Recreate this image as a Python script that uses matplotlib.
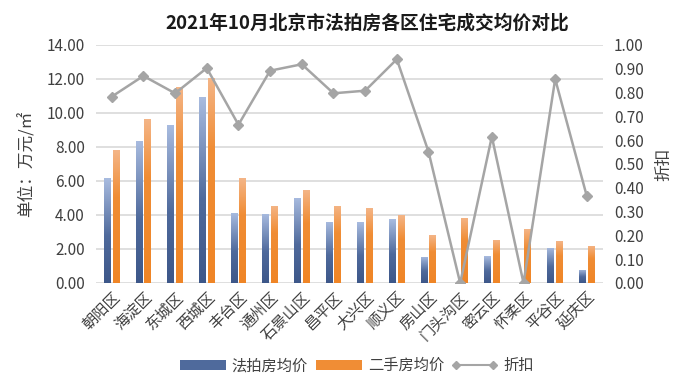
import numpy as np
import matplotlib
matplotlib.use("Agg")
import matplotlib.pyplot as plt
from matplotlib.colors import LinearSegmentedColormap
from matplotlib.lines import Line2D
from matplotlib.patches import Patch

plt.rcParams['font.family'] = ['Noto Sans CJK SC', 'DejaVu Sans']

categories = ['朝阳区', '海淀区', '东城区', '西城区', '丰台区', '通州区', '石景山区', '昌平区',
              '大兴区', '顺义区', '房山区', '门头沟区', '密云区', '怀柔区', '平谷区', '延庆区']
auction_price = [6.15, 8.37, 9.27, 10.94, 4.12, 4.06, 5.00, 3.61, 3.57, 3.76, 1.55, 0.0, 1.57, 0.0, 2.08, 0.78]
resale_price = [7.82, 9.63, 11.55, 12.04, 6.16, 4.53, 5.47, 4.53, 4.41, 3.98, 2.82, 3.84, 2.55, 3.16, 2.47, 2.18]
discount = [0.783, 0.870, 0.797, 0.903, 0.665, 0.892, 0.919, 0.797, 0.808, 0.940, 0.552, 0.0, 0.615, 0.0, 0.857, 0.364]
left_ticks = [0, 2, 4, 6, 8, 10, 12, 14]
right_ticks = [0.0, 0.1, 0.2, 0.3, 0.4, 0.5, 0.6, 0.7, 0.8, 0.9, 1.0]

fig = plt.figure(figsize=(7, 3.79), dpi=100)
ax = fig.add_axes([0.137, 0.2533, 0.724, 0.628])

x = np.arange(len(categories))
w = 0.22
off = 0.135

blue_cmap = LinearSegmentedColormap.from_list('b', [(0, '#3D5789'), (0.45, '#4F6A9C'), (1, '#A9BCE0')])
orange_cmap = LinearSegmentedColormap.from_list('o', [(0, '#EF8526'), (0.65, '#F08D35'), (1, '#F4B587')])

def grad_bars(xs, vals, cmap, z=2):
    bars = ax.bar(xs, vals, width=w, color='none', edgecolor='none', zorder=z)
    grad = np.linspace(0, 1, 256).reshape(-1, 1)
    for b in bars:
        h = b.get_height()
        if h <= 0:
            continue
        x0 = b.get_x()
        im = ax.imshow(grad, extent=[x0, x0 + b.get_width(), 0, h], origin='lower',
                       aspect='auto', cmap=cmap, zorder=z, interpolation='bilinear')
        im.set_clip_path(b)
    return bars

grad_bars(x - off, auction_price, blue_cmap)
grad_bars(x + off, resale_price, orange_cmap)

ax.set_xlim(-0.5, len(categories) - 0.5)
ax.set_ylim(0, 14)
ax.set_yticks(left_ticks)
ax.set_yticklabels([f'{t:.2f}' for t in left_ticks], fontsize=11, color='#404040')
ax.yaxis.grid(True, color='#D9D9D9', linewidth=1.2)
ax.set_axisbelow(True)
for s in ax.spines.values():
    s.set_visible(False)
ax.tick_params(axis='both', length=0)
ax.tick_params(axis='y', pad=8)
ax.set_xticks(x)
ax.set_xticklabels(categories, rotation=45, ha='right', rotation_mode='anchor', fontsize=11, color='#404040')
ax.tick_params(axis='x', pad=4)
ax.set_ylabel('单位：万元/㎡', fontsize=12, color='#404040', labelpad=8)

ax2 = ax.twinx()
ax2.plot(x, discount, color='#A5A5A5', linewidth=1.8, marker='D', markersize=5,
         markerfacecolor='#A5A5A5', markeredgecolor='#A5A5A5', zorder=5)
ax2.set_ylim(0, 1.0)
ax2.set_yticks(right_ticks)
ax2.set_yticklabels([f'{t:.2f}' for t in right_ticks], fontsize=11, color='#404040')
ax2.tick_params(axis='y', length=0, pad=8)
for s in ax2.spines.values():
    s.set_visible(False)
ax2.set_ylabel('折扣', fontsize=12, color='#404040', labelpad=8)

fig.text(0.525, 0.94, '2021年10月北京市法拍房各区住宅成交均价对比', ha='center', va='center',
         fontsize=13.5, fontweight='bold', color='#1a1a1a')

handles = [Patch(facecolor='#4F6A9C', edgecolor='none'),
           Patch(facecolor='#F08D35', edgecolor='none'),
           Line2D([0], [0], color='#A5A5A5', linewidth=1.5, marker='D', markersize=4)]
fig.legend(handles, ['法拍房均价', '二手房均价', '折扣'], loc='center', bbox_to_anchor=(0.51, 0.035),
           ncol=3, frameon=False, fontsize=11, handlelength=3.0, handletextpad=0.4, columnspacing=0.5,
           labelcolor='#404040', numpoints=2)

fig.savefig('out.png', dpi=100)
